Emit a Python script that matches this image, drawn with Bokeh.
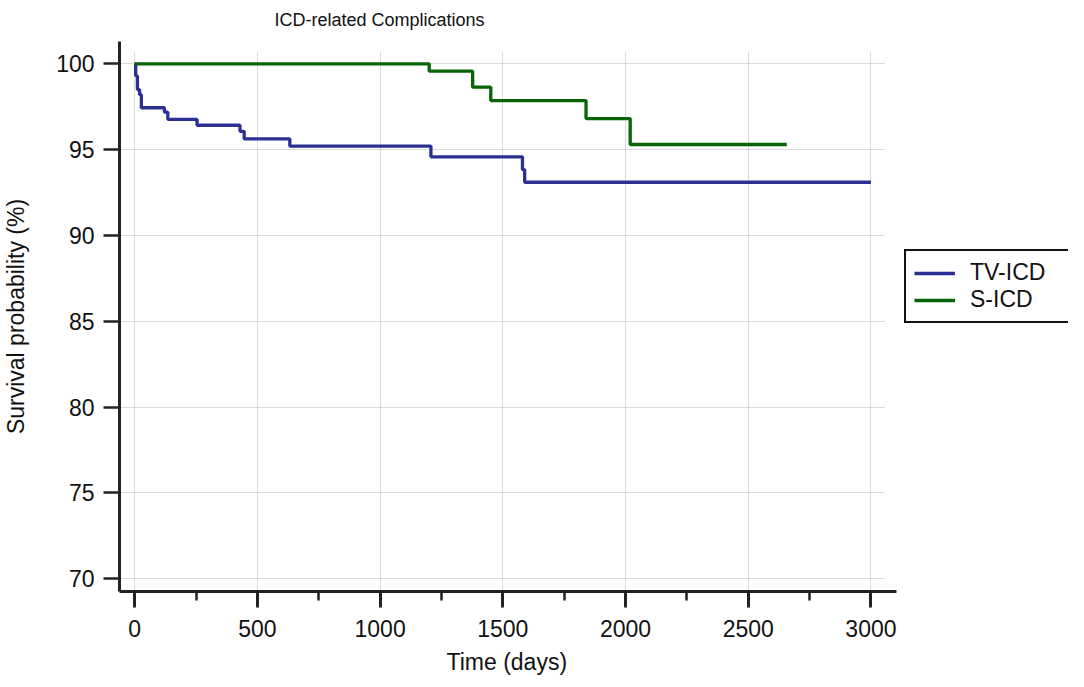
from bokeh.plotting import figure
from bokeh.models import Range1d, FixedTicker, Legend, LegendItem, ColumnDataSource, Grid, Title
from bokeh.embed import file_html
from bokeh.resources import INLINE

# ---- data ----
tv_time = [0, 4, 11, 20, 27, 121, 135, 254, 429, 446, 632, 1207, 1580, 1589, 3000]
tv_surv = [100, 99.3, 98.5, 98.2, 97.44, 97.18, 96.76, 96.42, 96.07, 95.63, 95.2, 94.58, 93.84, 93.1, 93.1]
s_time = [0, 1200, 1377, 1451, 1839, 2019, 2657]
s_surv = [100, 99.57, 98.64, 97.86, 96.81, 95.3, 95.3]

x_ticks = [0, 500, 1000, 1500, 2000, 2500, 3000]
x_minor = [250, 750, 1250, 1750, 2250, 2750]
y_ticks = [70, 75, 80, 85, 90, 95, 100]

title_text = "ICD-related Complications"
x_label = "Time (days)"
y_label = "Survival probability (%)"
series_names = ["TV-ICD", "S-ICD"]
series_colors = ["#2B3192", "#076507"]

FONT = "Liberation Sans"
AX = "#222222"

W, H = 1068, 686
B_LEFT, B_TOP, B_BOTTOM = 115, 41, 95
X0, X1 = -62, 3103          # extent of the drawn x axis
Y0, Y1 = 69.26, 101.3
PX_PER_DAY = 780 / (X1 - X0)
X_VIEW_END = X0 + (W - B_LEFT) / PX_PER_DAY   # frame continues right, for the legend

p = figure(width=W, height=H, output_backend="svg", toolbar_location=None,
           x_range=Range1d(X0, X_VIEW_END), y_range=Range1d(Y0, Y1),
           min_border_left=B_LEFT, min_border_right=0, min_border_top=B_TOP,
           min_border_bottom=B_BOTTOM)
p.outline_line_color = None
p.background_fill_color = "white"

# title
p.title.text = title_text
p.title.align = "left"
p.title.offset = 155
p.title.text_font = FONT
p.title.text_font_size = "18px"
p.title.text_font_style = "normal"
p.title.text_color = "#111111"
p.title.standoff = 19
p.title.vertical_align = "top"

# axes
for ax in (p.xaxis[0], p.yaxis[0]):
    ax.axis_line_color = AX
    ax.axis_line_width = 3
    ax.major_tick_line_color = AX
    ax.major_tick_out = 16
    ax.major_tick_in = 0
    ax.major_label_text_font = FONT
    ax.major_label_text_font_size = "23px"
    ax.major_label_text_color = "#111111"
    ax.axis_label_text_font = FONT
    ax.axis_label_text_font_size = "23px"
    ax.axis_label_text_font_style = "normal"
    ax.axis_label_text_color = "#111111"

xa = p.xaxis[0]
xa.bounds = (X0, X1)
xa.ticker = FixedTicker(ticks=x_ticks, minor_ticks=x_minor)
xa.major_tick_line_width = 3
xa.minor_tick_line_color = AX
xa.minor_tick_line_width = 2.5
xa.minor_tick_out = 9
xa.minor_tick_in = 0
xa.major_label_standoff = 12

ya = p.yaxis[0]
ya.ticker = FixedTicker(ticks=y_ticks, minor_ticks=[])
ya.major_tick_line_width = 2.5
ya.minor_tick_line_color = None
ya.major_label_standoff = 9
ya.axis_label = y_label
ya.axis_label_standoff = 24

# x-axis label as a text block under the axis, centred on the drawn axis
xlab = Title(text=x_label, align="left", offset=327, standoff=15,
             text_font=FONT, text_font_size="23px", text_font_style="normal",
             text_color="#111111")
p.add_layout(xlab, "below")

# grid
for g in p.grid:
    g.grid_line_color = "#b4b4b4"
    g.grid_line_dash = "1 1"
    g.grid_line_width = 1
if "cross_bounds" in Grid.properties():
    p.xgrid[0].cross_bounds = (Y0, 100.73)
    p.ygrid[0].cross_bounds = (X0, 3058)

# curves
src_tv = ColumnDataSource(dict(t=tv_time, s=tv_surv))
src_s = ColumnDataSource(dict(t=s_time, s=s_surv))
r_tv = p.step(x="t", y="s", source=src_tv, mode="after", line_width=3.3,
              line_color=series_colors[0])
r_s = p.step(x="t", y="s", source=src_s, mode="after", line_width=3.3,
             line_color=series_colors[1])

legend = Legend(items=[LegendItem(label=series_names[0], renderers=[r_tv]),
                       LegendItem(label=series_names[1], renderers=[r_s])],
                location=(785, 268), margin=0, padding=8, spacing=0,
                glyph_width=41, glyph_height=26, label_height=26,
                label_standoff=15, label_width=92,
                label_text_font=FONT, label_text_font_size="23px",
                label_text_color="#111111",
                border_line_color="#111111", border_line_width=2.5,
                border_line_alpha=1,
                background_fill_color="white", background_fill_alpha=1)
p.add_layout(legend, "center")

open("out.html", "w").write(file_html(p, INLINE))
